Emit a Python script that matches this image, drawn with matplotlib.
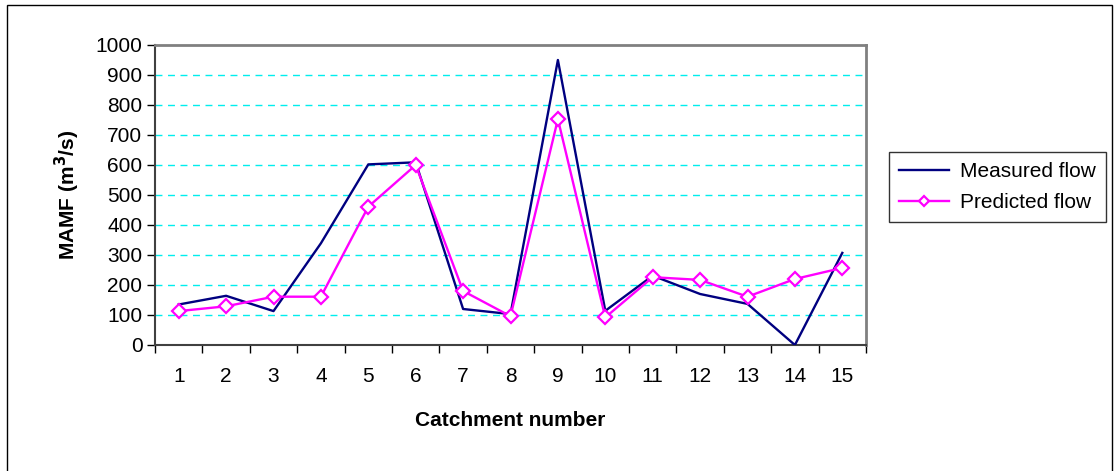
import matplotlib
matplotlib.use("Agg")
import matplotlib.pyplot as plt
from matplotlib.patches import Rectangle
import numpy as np

plt.rcParams["font.family"] = ["Liberation Sans", "DejaVu Sans"]

catchments = list(range(1, 16))
measured = [135, 164, 113, 339, 602, 609, 120, 103, 950, 114, 231, 170, 137, 0, 307]
predicted = [113, 129, 161, 161, 461, 600, 180, 96, 753, 92, 226, 217, 161, 220, 257]
y_ticks = list(range(0, 1001, 100))

W, H = 1114, 471
fig = plt.figure(figsize=(W / 100, H / 100), dpi=100)

# outer chart frame
fig.patches.append(Rectangle((7 / W, -0.01), (1112 - 7) / W, 1 - 5 / H + 0.01,
                             transform=fig.transFigure, fill=False,
                             edgecolor="black", lw=1.0))

ax = fig.add_axes([155 / W, 1 - 345 / H, (866 - 155) / W, 300 / H])
x = np.array(catchments)
ax.plot(x, measured, color="#000080", lw=1.7, label="Measured flow", zorder=3)
ax.plot(x, predicted, color="#FF00FF", lw=1.7, marker="D", ms=7,
        mfc="white", mec="#FF00FF", mew=1.6, label="Predicted flow", zorder=4)

ax.set_xlim(0.5, 15.5)
ax.set_ylim(0, 1000)
ax.set_yticks(y_ticks)
ax.set_xticks(x)
ax.set_xticklabels([str(c) for c in catchments])
ax.set_xticks(np.arange(0.5, 16, 1), minor=True)
ax.tick_params(axis="x", which="major", length=0, labelsize=15, pad=16)
ax.tick_params(axis="x", which="minor", length=6, width=1, color="black")
ax.tick_params(axis="y", length=6, width=1, labelsize=15, pad=3)

for v in y_ticks[1:-1]:
    ax.axhline(v, color="#00EEEE", lw=1.0, ls=(0, (5, 4)), zorder=1)

for side in ["top", "right"]:
    ax.spines[side].set_color("#808080")
    ax.spines[side].set_linewidth(2)
for side in ["left", "bottom"]:
    ax.spines[side].set_color("#404040")
    ax.spines[side].set_linewidth(1.5)

ax.set_ylabel("MAMF (m$^\\mathbf{3}$/s)", fontsize=15, fontweight="bold", labelpad=10)
ax.set_xlabel("Catchment number", fontsize=15, fontweight="bold", labelpad=18)

leg = fig.legend(loc="upper left", bbox_to_anchor=(889 / W, 1 - 152 / H),
                 fontsize=15, frameon=True, fancybox=False, edgecolor="black",
                 borderpad=0.5, handlelength=2.4, handletextpad=0.5,
                 labelspacing=0.55, markerscale=0.7, borderaxespad=0)
leg.get_frame().set_linewidth(1.0)

fig.savefig("out.png", dpi=100)
